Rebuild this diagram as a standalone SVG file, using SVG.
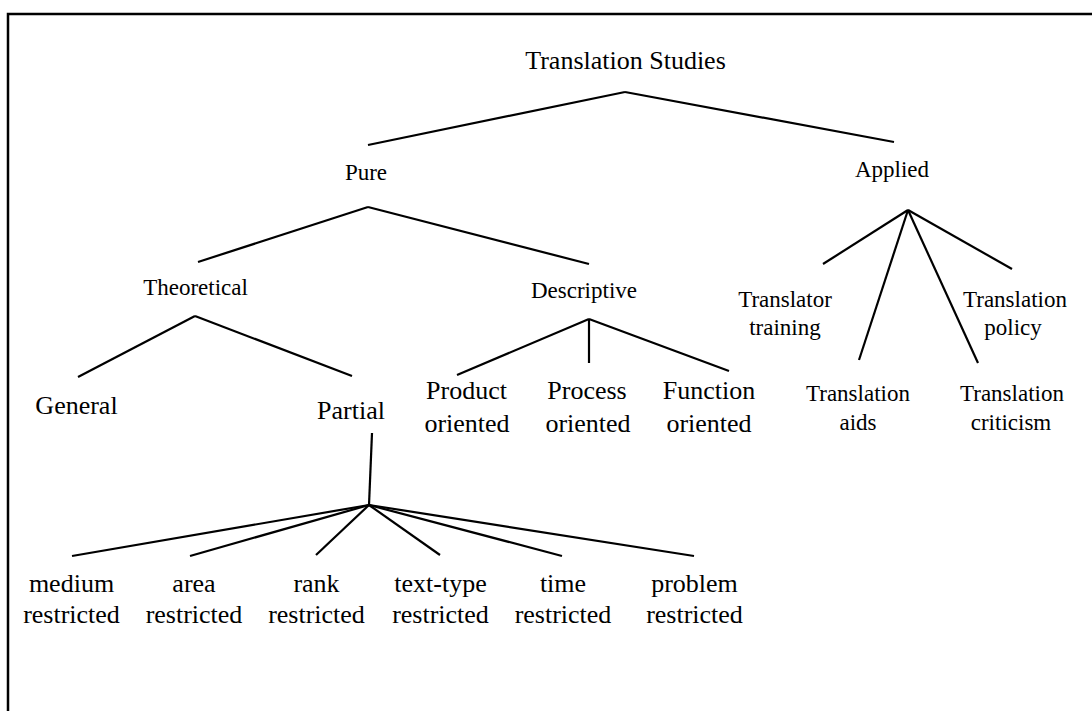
<svg xmlns="http://www.w3.org/2000/svg" width="1092" height="711" viewBox="0 0 1092 711">
<style>
text{font-family:"Liberation Serif","Times New Roman",serif;fill:#000;text-anchor:middle}
.l{font-size:26px}
.m{font-size:23px}
.c line{stroke:#000;stroke-width:2.2;stroke-linecap:butt}
.frame{fill:none;stroke:#000;stroke-width:2.5}
</style>
<rect width="1092" height="711" fill="#fff"/>
<path class="frame" d="M8,720 V14 H1100"/>
<g id="connectors" class="c">
<line x1="625" y1="92" x2="368" y2="145"/>
<line x1="625" y1="92" x2="894" y2="142"/>
<line x1="368" y1="207" x2="198" y2="262"/>
<line x1="368" y1="207" x2="589" y2="264"/>
<line x1="195" y1="316" x2="78" y2="377"/>
<line x1="195" y1="316" x2="352" y2="376"/>
<line x1="589" y1="319" x2="457" y2="375"/>
<line x1="589" y1="319" x2="589" y2="363"/>
<line x1="589" y1="319" x2="729" y2="371"/>
<line x1="908" y1="210" x2="823" y2="264"/>
<line x1="908" y1="210" x2="859" y2="360"/>
<line x1="908" y1="210" x2="978" y2="363"/>
<line x1="908" y1="210" x2="1012" y2="269"/>
<line x1="372" y1="433" x2="369" y2="505"/>
<line x1="369" y1="505" x2="72" y2="556"/>
<line x1="369" y1="505" x2="190" y2="556"/>
<line x1="369" y1="505" x2="316" y2="555"/>
<line x1="369" y1="505" x2="440" y2="555"/>
<line x1="369" y1="505" x2="562" y2="556"/>
<line x1="369" y1="505" x2="694" y2="556"/>
</g>
<g id="translation-studies"><text class="l" x="625.5" y="69">Translation Studies</text></g>
<g id="pure"><text class="m" x="366" y="180">Pure</text></g>
<g id="applied"><text class="m" x="892" y="177">Applied</text></g>
<g id="theoretical"><text class="m" x="195.5" y="295">Theoretical</text></g>
<g id="descriptive"><text class="m" x="584" y="298">Descriptive</text></g>
<g id="general"><text class="l" x="76.5" y="414">General</text></g>
<g id="partial"><text class="l" x="351" y="419">Partial</text></g>
<g id="product"><text class="l" x="466.5" y="399">Product</text><text class="l" x="467" y="432">oriented</text></g>
<g id="process"><text class="l" x="587" y="399">Process</text><text class="l" x="588" y="432">oriented</text></g>
<g id="function"><text class="l" x="709" y="399">Function</text><text class="l" x="709" y="432">oriented</text></g>
<g id="translator-training"><text class="m" x="785" y="307">Translator</text><text class="m" x="785" y="335">training</text></g>
<g id="translation-policy"><text class="m" x="1015" y="307">Translation</text><text class="m" x="1013" y="335">policy</text></g>
<g id="translation-aids"><text class="m" x="858" y="401">Translation</text><text class="m" x="858" y="430">aids</text></g>
<g id="translation-criticism"><text class="m" x="1012" y="401">Translation</text><text class="m" x="1011" y="430">criticism</text></g>
<g id="medium"><text class="l" x="71.5" y="592">medium</text><text class="l" x="71.5" y="623">restricted</text></g>
<g id="area"><text class="l" x="194" y="592">area</text><text class="l" x="194" y="623">restricted</text></g>
<g id="rank"><text class="l" x="316.5" y="592">rank</text><text class="l" x="316.5" y="623">restricted</text></g>
<g id="text-type"><text class="l" x="440.5" y="592">text-type</text><text class="l" x="440.5" y="623">restricted</text></g>
<g id="time"><text class="l" x="563" y="592">time</text><text class="l" x="563" y="623">restricted</text></g>
<g id="problem"><text class="l" x="694.5" y="592">problem</text><text class="l" x="694.5" y="623">restricted</text></g>
</svg>
